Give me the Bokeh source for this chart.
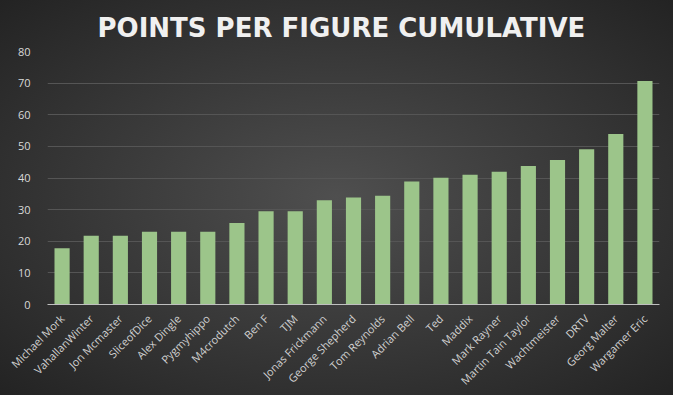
import math
from bokeh.plotting import figure
from bokeh.models import Range1d, FixedTicker
from bokeh.embed import file_html
from bokeh.resources import INLINE

names = ["Michael Mork", "VahallanWinter", "Jon Mcmaster", "SliceofDice", "Alex Dingle",
         "Pygmyhippo", "M4crodutch", "Ben F", "TJM", "Jonas Frickmann", "George Shepherd",
         "Tom Reynolds", "Adrian Bell", "Ted", "Maddix", "Mark Rayner", "Martin Tain Taylor",
         "Wachtmeister", "DRTV", "Georg Malter", "Wargamer Eric"]
points = [17.8, 21.7, 21.7, 23.0, 23.0, 23.0, 25.8, 29.5, 29.5, 33.0, 33.8,
          34.4, 38.9, 40.1, 41.0, 42.0, 43.8, 45.7, 49.1, 53.9, 70.7]
y_ticks = [0, 10, 20, 30, 40, 50, 60, 70, 80]

p = figure(width=673, height=395, x_range=names, y_range=Range1d(0, 80),
           output_backend="svg", toolbar_location=None,
           min_border_left=47, min_border_right=14, min_border_top=51, min_border_bottom=91)
p.background_fill_alpha = 0
p.border_fill_alpha = 0
p.outline_line_color = None

p.vbar(x=names, top=points, width=0.52, fill_color="#9cc58a", line_color=None)

p.title.text = "POINTS PER FIGURE CUMULATIVE"
p.title.align = "left"
p.title.text_color = "#f0f0f0"
p.title.text_font = "DejaVu Sans"
p.title.text_font_style = "bold"
p.title.text_font_size = "26px"
p.title.offset = 50
p.title.standoff = 17

p.yaxis.ticker = FixedTicker(ticks=y_ticks)
p.yaxis.axis_line_color = None
p.yaxis.major_tick_line_color = None
p.yaxis.minor_tick_line_color = None
p.yaxis.major_label_text_color = "#d9d9d9"
p.yaxis.major_label_text_font = "Open Sans"
p.yaxis.major_label_text_font_size = "11px"
p.yaxis.major_label_standoff = 11

p.xaxis.axis_line_color = "#bfbfbf"
p.xaxis.axis_line_width = 1
p.xaxis.major_tick_line_color = None
p.xaxis.minor_tick_line_color = None
p.xaxis.major_label_orientation = math.pi / 4
p.xaxis.major_label_text_color = "#d0d0d0"
p.xaxis.major_label_text_font = "Open Sans"
p.xaxis.major_label_text_font_size = "11px"
p.xaxis.major_label_standoff = 6

p.xgrid.grid_line_color = None
p.ygrid.grid_line_color = "#555555"
p.ygrid.grid_line_width = 1

html = file_html(p, INLINE)
style = ("<style>html, body { background: radial-gradient(ellipse at 50% 50%, "
         "#4f4f4f 0%, #3b3b3b 45%, #232323 100%) !important; min-height: 395px; }</style>")
html = html.replace("</head>", style + "</head>", 1)
open("out.html", "w").write(html)
